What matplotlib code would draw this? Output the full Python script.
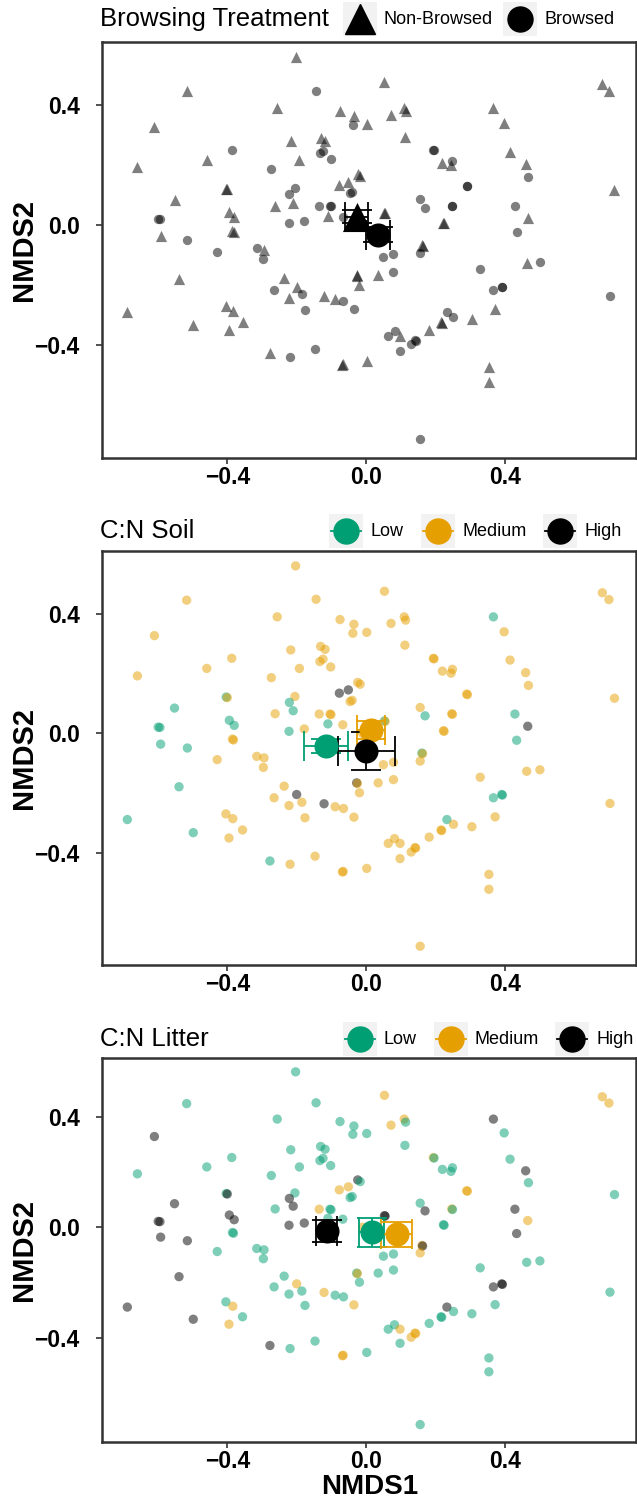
import matplotlib.pyplot as plt
from matplotlib.lines import Line2D
from matplotlib.patches import Rectangle

plt.rcParams['font.family'] = ['Liberation Sans', 'DejaVu Sans']

# NMDS site scores (one entry per plot)
nmds1 = [-0.203, -0.144, -0.517, -0.256, -0.075, -0.035, -0.038, 0.002, -0.610, -0.217,
         -0.131, -0.118, -0.133, -0.124, -0.102, -0.387, -0.459, -0.192, -0.659, -0.273,
         -0.024, -0.017, -0.077, -0.051, -0.046, -0.040, -0.403, -0.400, -0.205, -0.221,
         -0.210, -0.552, -0.262, -0.135, -0.104, -0.101, -0.110, -0.067, -0.599, -0.594,
         -0.394, -0.380, -0.222, -0.178, -0.385, -0.382, -0.592, -0.515, -0.429, -0.315,
         -0.294, -0.296, -0.539, -0.236, -0.027, -0.025, -0.019, -0.265, -0.200, -0.185,
         -0.222, -0.121, -0.089, -0.065, -0.035, -0.176, -0.688, -0.404, -0.384, -0.356,
         -0.498, -0.395, -0.277, -0.219, -0.147, -0.068, -0.066, 0.002, 0.053, 0.681,
         0.700, 0.110, 0.114, 0.072, 0.367, 0.398, 0.112, 0.194, 0.196, 0.415,
         0.220, 0.249, 0.245, 0.460, 0.468, 0.290, 0.292, 0.716, 0.156, 0.170,
         0.247, 0.249, 0.429, 0.466, 0.223, 0.225, 0.053, 0.055, 0.434, 0.161,
         0.163, 0.050, 0.079, 0.156, 0.035, 0.079, 0.329, 0.463, 0.501, 0.367,
         0.391, 0.393, 0.703, 0.372, 0.233, 0.252, 0.216, 0.218, 0.305, 0.182,
         0.064, 0.082, 0.098, 0.141, 0.143, 0.130, 0.098, 0.354, 0.354, 0.156,
         -0.010]
nmds2 = [0.562, 0.450, 0.447, 0.391, 0.382, 0.366, 0.336, 0.339, 0.328, 0.280,
         0.292, 0.282, 0.241, 0.249, 0.223, 0.252, 0.218, 0.218, 0.193, 0.187,
         0.171, 0.165, 0.135, 0.146, 0.107, 0.111, 0.122, 0.120, 0.124, 0.104,
         0.076, 0.085, 0.066, 0.065, 0.065, 0.063, 0.032, 0.029, 0.021, 0.020,
         0.044, 0.027, 0.007, 0.015, -0.019, -0.022, -0.036, -0.049, -0.088, -0.077,
         -0.082, -0.114, -0.179, -0.177, -0.166, -0.168, -0.199, -0.216, -0.205, -0.231,
         -0.242, -0.236, -0.246, -0.252, -0.281, -0.283, -0.289, -0.270, -0.286, -0.324,
         -0.333, -0.351, -0.428, -0.439, -0.412, -0.465, -0.463, -0.453, 0.477, 0.472,
         0.449, 0.391, 0.380, 0.369, 0.391, 0.341, 0.296, 0.252, 0.250, 0.246,
         0.209, 0.215, 0.202, 0.204, 0.161, 0.132, 0.130, 0.118, 0.087, 0.059,
         0.066, 0.064, 0.065, 0.024, 0.009, 0.007, 0.042, 0.040, -0.023, -0.066,
         -0.068, -0.105, -0.097, -0.093, -0.166, -0.155, -0.147, -0.127, -0.122, -0.216,
         -0.205, -0.207, -0.235, -0.280, -0.289, -0.305, -0.324, -0.326, -0.313, -0.348,
         -0.369, -0.353, -0.369, -0.383, -0.385, -0.398, -0.420, -0.473, -0.523, -0.714,
         0.000]

# N = Non-Browsed, B = Browsed
browsing = list("NBNNNNBNNN" "NNBBBBNNNB" "NNNNBBNNBB" "NNNBBBNBBB" "NNBBNNNBBB"
                "NBNNNNNBNB" "NNNBBBNNNN" "NNNBBNNNNN" "NNNNNNNBBN" "NBNNBBBNBB"
                "BBBNNNNNBN" "NBBBNBBNBB" "BBBNBBNNNN" "BBNBBBBNNB" "B")
# L = Low, M = Medium, H = High
cn_soil = list("MMMMMMMMMM" "MMMMMMMMMM" "MMHHMMLMML" "LLMMMMLMLL" "LLLMMMLLMM"
               "MMLMHMMMHM" "MHMMMMLMMM" "LMLMMMMMMM" "MMMMLMMMMM" "MMMMMMMMML"
               "MMLHMMLMLL" "MMMMMMMMML" "LLMMLMMMMM" "MMMMMMMMMM" "M")
cn_litter = list("LLLLLLLLHL" "LLLLLLLLLL" "HLMMLLLHLH" "HHLMLLLLHH" "HHHHLLHHLL"
                 "LLHLLMLLML" "LMLLMLHLML" "HMHLLMMLMM" "MMLMHLLMLL" "LLLHLMMLLH"
                 "MLHMLLHHHM" "HLLMLLLLLH" "HHLLHLLLLL" "LLMMMMLLLL" "M")

# group centroids with standard errors
browse_levels = ["Non-Browsed", "Browsed"]
browse_cx = [-0.027, 0.035]
browse_cy = [0.029, -0.032]
browse_sx = [0.034, 0.034]
browse_sy = [0.022, 0.025]

cn_levels = ["Low", "Medium", "High"]
soil_cx = [-0.115, 0.014, 0.000]
soil_cy = [-0.043, 0.011, -0.059]
soil_sx = [0.064, 0.040, 0.082]
soil_sy = [0.024, 0.030, 0.065]

litter_cx = [0.016, 0.088, -0.113]
litter_cy = [-0.019, -0.026, -0.014]
litter_sx = [0.036, 0.045, 0.030]
litter_sy = [0.052, 0.045, 0.039]

cn_colors = {"Low": "#009E73", "Medium": "#E69F00", "High": "#000000"}
cn_codes = {"L": "Low", "M": "Medium", "H": "High"}
browse_marker = {"Non-Browsed": "^", "Browsed": "o"}
browse_codes = {"N": "Non-Browsed", "B": "Browsed"}

W, H = 637, 1506
fig = plt.figure(figsize=(W / 100, H / 100), dpi=100)


def fx(x):
    return x / W


def fy(y):
    return 1 - y / H


def make_axes(top, bottom):
    ax = fig.add_axes([fx(102), fy(bottom), fx(636) - fx(102), fy(top) - fy(bottom)])
    ax.set_xlim(-0.761, 0.778)
    ax.set_ylim(-0.777, 0.612)
    ax.set_xticks([-0.4, 0.0, 0.4])
    ax.set_yticks([-0.4, 0.0, 0.4])
    ax.set_xticklabels(["\u22120.4", "0.0", "0.4"], fontweight="bold", fontsize=16.5)
    ax.set_yticklabels(["\u22120.4", "0.0", "0.4"], fontweight="bold", fontsize=16.5)
    ax.tick_params(length=4, width=1.2, color="#333333")
    ax.tick_params(axis="x", pad=2)
    ax.tick_params(axis="y", pad=12)
    for s in ax.spines.values():
        s.set_linewidth(1.8)
        s.set_color("#333333")
    ax.set_ylabel("NMDS2", fontweight="bold", fontsize=21, va="center")
    ax.yaxis.set_label_coords(-0.146, 0.5)
    return ax


def centroid(ax, cx, cy, sx, sy, color, marker, size):
    ax.errorbar(cx, cy, xerr=sx, yerr=sy, fmt="none", ecolor=color,
                elinewidth=1.3, capsize=11, capthick=1.3, zorder=4)
    ax.scatter(cx, cy, s=size, marker=marker, color=color, zorder=5, linewidths=0)


def legend(title, ty, entries):
    fig.text(fx(100), fy(ty), title, fontsize=18.5, va="center", ha="left")
    for kx, label, marker, color, bar in entries:
        fig.add_artist(Rectangle((fx(kx - 17), fy(ty + 17)), 34 / W, 34 / H,
                                 transform=fig.transFigure, facecolor="#F2F2F2",
                                 edgecolor="none"))
        if bar:
            fig.add_artist(Line2D([fx(kx - 15), fx(kx + 15)], [fy(ty), fy(ty)],
                                  transform=fig.transFigure, color=color, lw=1.3))
        fig.add_artist(Line2D([fx(kx)], [fy(ty)], transform=fig.transFigure,
                              marker=marker, markersize=18 if marker == "o" else 22,
                              color=color, linestyle="none"))
        fig.text(fx(kx + 24), fy(ty), label, fontsize=13, va="center", ha="left")


# Browsing treatment
ax1 = make_axes(42, 458)
for lvl in browse_levels:
    idx = [i for i, b in enumerate(browsing) if browse_codes[b] == lvl]
    ax1.scatter([nmds1[i] for i in idx], [nmds2[i] for i in idx],
                marker=browse_marker[lvl], s=65 if lvl == "Non-Browsed" else 45,
                color="black", alpha=0.5, linewidths=0, zorder=2)
for i, lvl in enumerate(browse_levels):
    centroid(ax1, browse_cx[i], browse_cy[i], browse_sx[i], browse_sy[i], "black",
             browse_marker[lvl], 440 if lvl == "Non-Browsed" else 300)
legend("Browsing Treatment", 19,
       [(360, "Non-Browsed", "^", "black", False), (520, "Browsed", "o", "black", False)])

# C:N soil
ax2 = make_axes(551, 965)
cols = [cn_colors[cn_codes[c]] for c in cn_soil]
ax2.scatter(nmds1, nmds2, c=cols, s=45, alpha=0.5, linewidths=0, zorder=2)
for i, lvl in enumerate(cn_levels):
    centroid(ax2, soil_cx[i], soil_cy[i], soil_sx[i], soil_sy[i], cn_colors[lvl], "o", 300)
legend("C:N Soil", 531,
       [(346, "Low", "o", cn_colors["Low"], True),
        (438, "Medium", "o", cn_colors["Medium"], True),
        (560, "High", "o", cn_colors["High"], True)])

# C:N litter
ax3 = make_axes(1058, 1442)
cols = [cn_colors[cn_codes[c]] for c in cn_litter]
ax3.scatter(nmds1, nmds2, c=cols, s=45, alpha=0.5, linewidths=0, zorder=2)
for i, lvl in enumerate(cn_levels):
    centroid(ax3, litter_cx[i], litter_cy[i], litter_sx[i], litter_sy[i], cn_colors[lvl], "o", 300)
ax3.set_xlabel("NMDS1", fontweight="bold", fontsize=20, va="center")
ax3.xaxis.set_label_coords(0.502, -0.118)
legend("C:N Litter", 1039,
       [(360, "Low", "o", cn_colors["Low"], True),
        (451, "Medium", "o", cn_colors["Medium"], True),
        (572, "High", "o", cn_colors["High"], True)])

fig.savefig("out.png", dpi=100)
